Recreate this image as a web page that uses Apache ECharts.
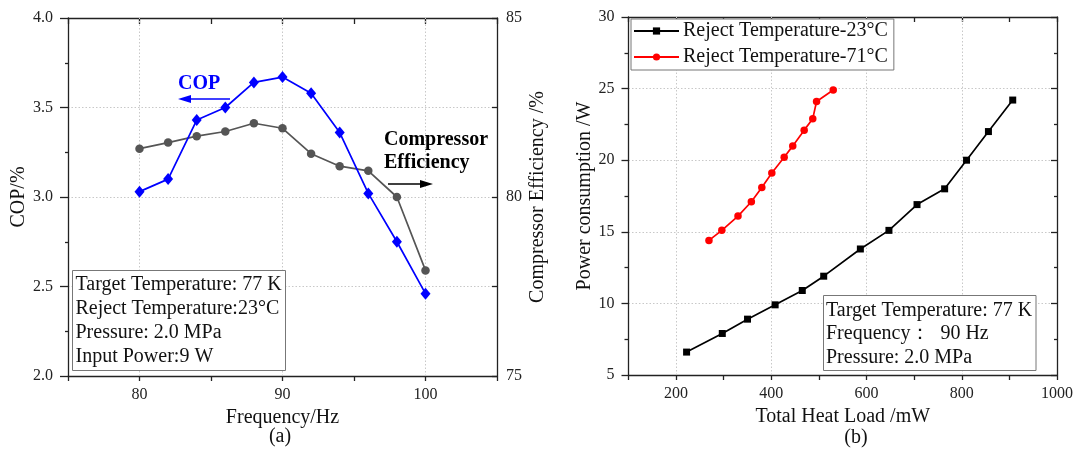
<!DOCTYPE html>
<html>
<head>
<meta charset="utf-8">
<script src="https://cdn.jsdelivr.net/npm/echarts@6/dist/echarts.min.js"></script>
<style>
html,body{margin:0;padding:0;background:#fff;}
#chart{width:1077px;height:449px;}
</style>
</head>
<body>
<div id="chart"></div>
<script>
// ---- Data: chart (a) ----
const frequency = [80, 82, 84, 86, 88, 90, 92, 94, 96, 98, 100];
const cop = [3.03, 3.10, 3.43, 3.50, 3.64, 3.67, 3.58, 3.36, 3.02, 2.75, 2.46];
const compressorEfficiency = [81.35, 81.52, 81.70, 81.83, 82.06, 81.92, 81.21, 80.86, 80.73, 80.00, 77.95];
const freqTickLabels = [80, 90, 100];
const effTickLabels = [75, 80, 85];

// ---- Data: chart (b) ----
const heatLoad23 = [222, 297, 350, 408, 465, 510, 587, 647, 706, 764, 810, 856, 907];
const power23 = [6.6, 7.9, 8.9, 9.9, 10.9, 11.9, 13.8, 15.1, 16.9, 18.0, 20.0, 22.0, 24.2];
const heatLoad71 = [269, 296, 330, 358, 380, 401, 427, 445, 469, 487, 495, 530];
const power71 = [14.4, 15.1, 16.1, 17.1, 18.1, 19.1, 20.2, 21.0, 22.1, 22.9, 24.1, 24.9];
const loadTickLabels = [200, 400, 600, 800, 1000];
const loadGridLines = [200, 400, 600, 800];

const FONT = '"Liberation Serif", "Times New Roman", serif';
const AX = '#222';
const GRIDC = '#c8c8c8';

const chart = echarts.init(document.getElementById('chart'), null, {renderer: 'canvas'});

function pairs(xs, ys) { return xs.map((x, i) => [x, ys[i]]); }

const labelStyle = {fontFamily: FONT, fontSize: 16, color: AX};
const nameStyle = {fontFamily: FONT, fontSize: 20, color: '#111'};
const axisLine = {show: true, lineStyle: {color: AX, width: 1.3}};
const dotted = {show: true, lineStyle: {color: GRIDC, type: [1.5, 2], width: 1}};

const option = {
  animation: false,
  backgroundColor: '#fff',
  textStyle: {fontFamily: FONT},
  grid: [
    {left: 68, right: 580, top: 18, bottom: 73, containLabel: false},
    {left: 628.5, right: 20, top: 17, bottom: 74, containLabel: false}
  ],
  legend: {
    show: true,
    data: ['Reject Temperature-23°C', 'Reject Temperature-71°C'],
    orient: 'vertical',
    left: 631, top: 19,
    padding: [2, 6, 3, 2],
    itemGap: 6,
    itemWidth: 45, itemHeight: 9,
    borderColor: '#777', borderWidth: 1,
    backgroundColor: '#fff',
    textStyle: {fontFamily: FONT, fontSize: 20, color: '#111', lineHeight: 20, padding: [0, 0, 0, -1]}
  },
  xAxis: [
    {
      gridIndex: 0, type: 'value', min: 75, max: 105, interval: 5,
      axisLine: axisLine,
      axisTick: {show: true, inside: false, length: 5, lineStyle: {color: AX, width: 1.3}},
      axisLabel: Object.assign({margin: 11, formatter: v => freqTickLabels.includes(v) ? String(v) : ''}, labelStyle),
      splitLine: {show: false},
      name: 'Frequency/Hz', nameLocation: 'middle', nameGap: 26, nameTextStyle: nameStyle
    },
    {
      gridIndex: 0, type: 'value', position: 'top', min: 75, max: 105, interval: 5,
      axisLine: axisLine,
      axisTick: {show: true, inside: true, length: 6, lineStyle: {color: AX, width: 1.3}},
      axisLabel: {show: false}, splitLine: {show: false}
    },
    {
      gridIndex: 1, type: 'value', min: 100, max: 1000, interval: 100,
      axisLine: axisLine,
      axisTick: {show: true, inside: false, length: 5, lineStyle: {color: AX, width: 1.3}},
      axisLabel: Object.assign({margin: 11, formatter: v => loadTickLabels.includes(v) ? String(v) : ''}, labelStyle),
      splitLine: {show: false},
      name: 'Total Heat Load /mW', nameLocation: 'middle', nameGap: 29, nameTextStyle: nameStyle
    },
    {
      gridIndex: 1, type: 'value', position: 'top', min: 100, max: 1000, interval: 100,
      axisLine: axisLine,
      axisTick: {show: true, inside: true, length: 5, lineStyle: {color: AX, width: 1.3}},
      axisLabel: {show: false}, splitLine: {show: false}
    }
  ],
  yAxis: [
    {
      gridIndex: 0, type: 'value', min: 2, max: 4, interval: 0.5,
      axisLine: axisLine,
      axisTick: {show: true, inside: false, length: 8, lineStyle: {color: AX, width: 1.3}},
      minorTick: {show: true, splitNumber: 2, length: 3, lineStyle: {color: AX, width: 1.3}},
      axisLabel: Object.assign({margin: 15, formatter: v => v.toFixed(1)}, labelStyle),
      splitLine: dotted,
      name: 'COP/%', nameLocation: 'middle', nameRotate: 90, nameGap: 35, nameTextStyle: nameStyle
    },
    {
      gridIndex: 0, type: 'value', position: 'right', min: 75, max: 85, interval: 2.5,
      axisLine: axisLine,
      axisTick: {show: true, inside: true, length: 5, lineStyle: {color: AX, width: 1.3}},
      axisLabel: Object.assign({margin: 9, formatter: v => effTickLabels.includes(v) ? String(v) : ''}, labelStyle),
      splitLine: {show: false},
      name: 'Compressor Efficiency /%', nameLocation: 'middle', nameRotate: 90, nameGap: 31, nameTextStyle: nameStyle
    },
    {
      gridIndex: 1, type: 'value', min: 5, max: 30, interval: 5,
      axisLine: axisLine,
      axisTick: {show: true, inside: false, length: 7, lineStyle: {color: AX, width: 1.3}},
      minorTick: {show: true, splitNumber: 2, length: 4, lineStyle: {color: AX, width: 1.3}},
      axisLabel: Object.assign({margin: 14}, labelStyle),
      splitLine: dotted,
      name: 'Power consumption /W', nameLocation: 'middle', nameRotate: 90, nameGap: 34, nameTextStyle: nameStyle
    },
    {
      gridIndex: 1, type: 'value', position: 'right', min: 5, max: 30, interval: 5,
      axisLine: axisLine,
      axisTick: {show: true, inside: true, length: 6, lineStyle: {color: AX, width: 1.3}},
      minorTick: {show: true, splitNumber: 2, length: 3, lineStyle: {color: AX, width: 1.3}},
      axisLabel: {show: false}, splitLine: {show: false}
    }
  ],
  series: [
    {
      name: 'Compressor Efficiency', type: 'line', xAxisIndex: 0, yAxisIndex: 1, z: 2,
      data: pairs(frequency, compressorEfficiency),
      symbol: 'circle', symbolSize: 8.5,
      lineStyle: {color: '#555', width: 1.7},
      itemStyle: {color: '#555'},
      markLine: {
        silent: true, symbol: ['none', 'none'], label: {show: false}, z: 1,
        lineStyle: {color: GRIDC, type: [1.5, 2], width: 1},
        data: freqTickLabels.map(v => ({xAxis: v}))
      }
    },
    {
      name: 'COP', type: 'line', xAxisIndex: 0, yAxisIndex: 0, z: 3,
      data: pairs(frequency, cop),
      symbol: 'diamond', symbolSize: [10, 12],
      lineStyle: {color: '#0000ff', width: 1.7},
      itemStyle: {color: '#0000ff'}
    },
    {
      name: 'Reject Temperature-23°C', type: 'line', xAxisIndex: 2, yAxisIndex: 2, z: 3,
      data: pairs(heatLoad23, power23),
      symbol: 'rect', symbolSize: 7,
      lineStyle: {color: '#000', width: 1.7},
      itemStyle: {color: '#000'},
      markLine: {
        silent: true, symbol: ['none', 'none'], label: {show: false}, z: 1,
        lineStyle: {color: GRIDC, type: [1.5, 2], width: 1},
        data: loadGridLines.map(v => ({xAxis: v}))
      }
    },
    {
      name: 'Reject Temperature-71°C', type: 'line', xAxisIndex: 2, yAxisIndex: 2, z: 3,
      data: pairs(heatLoad71, power71),
      symbol: 'circle', symbolSize: 7.5,
      lineStyle: {color: '#ff0000', width: 1.7},
      itemStyle: {color: '#ff0000'}
    }
  ],
  graphic: [
    // chart (a) annotations
    {type: 'text', z: 50, style: {text: 'COP', x: 178, y: 84, font: 'bold 20px ' + FONT, fill: '#0000ff', textAlign: 'left', textVerticalAlign: 'middle'}},
    {type: 'line', z: 50, shape: {x1: 230, y1: 99, x2: 186, y2: 99}, style: {stroke: '#0000ff', lineWidth: 1.6}},
    {type: 'polygon', z: 50, shape: {points: [[178, 99], [191, 95], [191, 103]]}, style: {fill: '#0000ff'}},
    {type: 'text', z: 50, style: {text: 'Compressor\nEfficiency', x: 384, y: 128.5, font: 'bold 20px ' + FONT, lineHeight: 23, fill: '#000', textAlign: 'left', textVerticalAlign: 'top'}},
    {type: 'line', z: 50, shape: {x1: 388, y1: 184, x2: 424, y2: 184}, style: {stroke: '#000', lineWidth: 1.6}},
    {type: 'polygon', z: 50, shape: {points: [[433, 184], [420, 180], [420, 188]]}, style: {fill: '#000'}},
    {type: 'rect', z: 50, shape: {x: 72.5, y: 270.5, width: 213, height: 100}, style: {fill: '#fff', stroke: '#777', lineWidth: 1}},
    {type: 'text', z: 51, style: {text: 'Target Temperature: 77 K\nReject Temperature:23°C\nPressure: 2.0 MPa\nInput Power:9 W', x: 75.5, y: 273, font: '20px ' + FONT, lineHeight: 24, fill: '#111', textAlign: 'left', textVerticalAlign: 'top'}},
    {type: 'text', z: 50, style: {text: '(a)', x: 280, y: 437, font: '20px ' + FONT, fill: '#111', textAlign: 'center', textVerticalAlign: 'middle'}},
    // chart (b) annotations
    {type: 'rect', z: 50, shape: {x: 823.5, y: 295.5, width: 212.5, height: 75}, style: {fill: '#fff', stroke: '#777', lineWidth: 1}},
    {type: 'text', z: 51, style: {text: 'Target Temperature: 77 K\nFrequency：  90 Hz\nPressure: 2.0 MPa', x: 826, y: 298.5, font: '20px ' + FONT, lineHeight: 23.7, fill: '#111', textAlign: 'left', textVerticalAlign: 'top'}},
    {type: 'text', z: 50, style: {text: '(b)', x: 856, y: 438, font: '20px ' + FONT, fill: '#111', textAlign: 'center', textVerticalAlign: 'middle'}}
  ]
};

chart.setOption(option);
</script>
</body>
</html>
